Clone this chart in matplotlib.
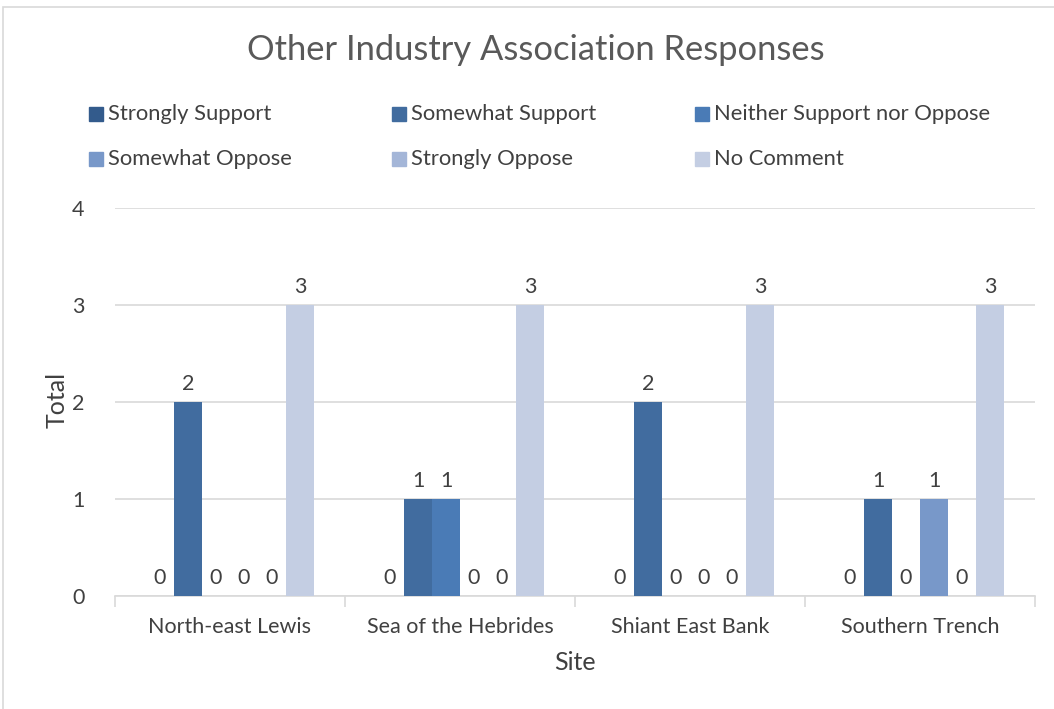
import numpy as np
import matplotlib.pyplot as plt
from matplotlib.patches import Rectangle

plt.rcParams['font.family'] = ['Lato', 'DejaVu Sans']

# data
sites = ['North-east Lewis', 'Sea of the Hebrides', 'Shiant East Bank', 'Southern Trench']
responses = ['Strongly Support', 'Somewhat Support', 'Neither Support nor Oppose',
             'Somewhat Oppose', 'Strongly Oppose', 'No Comment']
strongly_support = [0, 0, 0, 0]
somewhat_support = [2, 1, 2, 1]
neither = [0, 1, 0, 0]
somewhat_oppose = [0, 0, 0, 1]
strongly_oppose = [0, 0, 0, 0]
no_comment = [3, 3, 3, 3]
series = [strongly_support, somewhat_support, neither, somewhat_oppose, strongly_oppose, no_comment]
colors = ['#335b8c', '#416c9f', '#4a7bb6', '#7898c9', '#a4b6d8', '#c4cee3']

W, H = 1054, 709
fig = plt.figure(figsize=(W / 100, H / 100), dpi=100)
ax = fig.add_axes([115 / W, 1 - 596 / H, 920 / W, 388 / H])

x = np.arange(len(sites))
bw = 28 / 230
text_col = '#404040'
for i, (vals, c) in enumerate(zip(series, colors)):
    pos = x + (i - 2.5) * bw
    ax.bar(pos, vals, width=bw, color=c, zorder=3)
    for p, v in zip(pos, vals):
        ax.text(p, v + 0.08, str(v), ha='center', va='bottom', fontsize=15.5, color=text_col)

ax.set_xlim(-0.5, 3.5)
ax.set_ylim(0, 4)
ax.set_yticks([0, 1, 2, 3, 4])
ax.yaxis.grid(True, color='#d9d9d9', linewidth=1.2, zorder=0)
ax.tick_params(axis='y', length=0, labelsize=15.5, labelcolor=text_col, pad=22)
ax.set_xticks(x)
ax.set_xticklabels(sites)
ax.tick_params(axis='x', length=0, labelsize=15.5, labelcolor=text_col, pad=15)
ax.set_xticks(np.arange(-0.5, 4, 1), minor=True)
ax.tick_params(axis='x', which='minor', length=8, color='#d9d9d9', width=1.2)
for s in ['top', 'right', 'left']:
    ax.spines[s].set_visible(False)
ax.spines['bottom'].set_color('#d9d9d9')
ax.spines['bottom'].set_linewidth(1.2)

ax.set_ylabel('Total', fontsize=18, color=text_col, va='center')
ax.yaxis.set_label_coords(-58 / 920, 196 / 388)
ax.set_xlabel('Site', fontsize=18, color=text_col, va='center')
ax.xaxis.set_label_coords(0.5, -67 / 388)

fig.text(536 / W, 1 - 50 / H, 'Other Industry Association Responses',
         ha='center', va='center', fontsize=24.8, color='#595959')

# legend, laid out row by row like the original
for i, (lab, c) in enumerate(zip(responses, colors)):
    col, row = i % 3, i // 3
    lx = 89 + 303 * col
    ly = 114 + 45 * row
    fig.add_artist(Rectangle((lx / W, 1 - (ly + 7) / H), 14 / W, 14 / H,
                             transform=fig.transFigure, color=c))
    fig.text((lx + 19) / W, 1 - ly / H, lab, ha='left', va='center',
             fontsize=15.8, color=text_col)

# chart area border
fig.add_artist(Rectangle((3 / W, -0.01), 1.1, 1 - 7 / H + 0.01, transform=fig.transFigure,
                         fill=False, edgecolor='#d9d9d9', linewidth=1.2))

fig.savefig('out.png', dpi=100)
